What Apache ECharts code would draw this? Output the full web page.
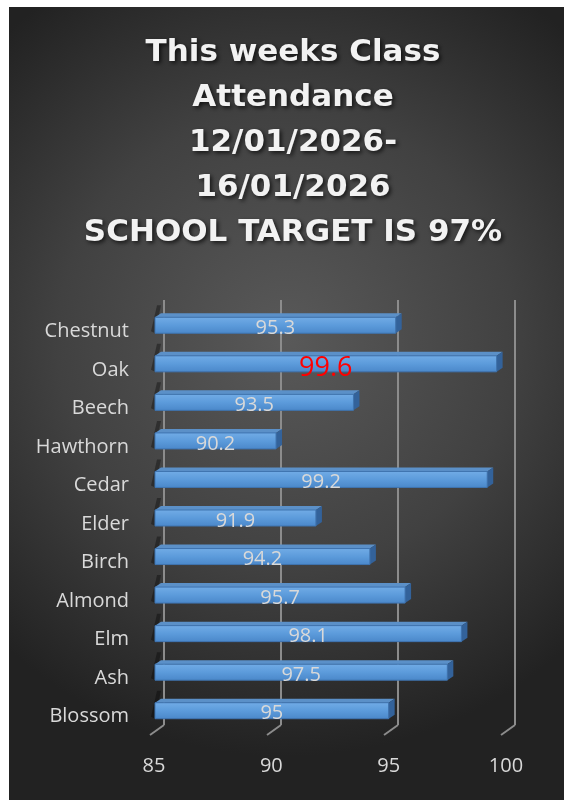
<!DOCTYPE html>
<html>
<head>
<meta charset="utf-8">
<script src="https://cdn.jsdelivr.net/npm/echarts@6/dist/echarts.min.js"></script>
<style>
html,body{margin:0;padding:0;background:#fff;}
#main{width:564px;height:800px;}
</style>
</head>
<body>
<div id="main"></div>
<script>
var classes = ['Chestnut','Oak','Beech','Hawthorn','Cedar','Elder','Birch','Almond','Elm','Ash','Blossom'];
var attendance = [95.3,99.6,93.5,90.2,99.2,91.9,94.2,95.7,98.1,97.5,95];
var xTicks = [85,90,95,100];
var axisMin = 85, axisMax = 100, axisStep = 5;
var highlight = 'Oak';

var myChart = echarts.init(document.getElementById('main'));

var barData = [];
for (var i = 0; i < classes.length; i++) {
	barData.push([attendance[i], i]);
}
var tickData = [];
for (var i = 0; i < xTicks.length; i++) tickData.push([xTicks[i], 0]);

// 3d-ish bar: front face, top face and end cap
function renderBar(params, api) {
	var v = api.value(0);
	var idx = api.value(1);
	var p0 = api.coord([axisMin, idx]);
	var p1 = api.coord([v, idx]);
	var h = 16, dx = 6, dy = 4;
	var x0 = p0[0] + 1, x1 = p1[0], y0 = p1[1] - h / 2;
	var big = classes[idx] == highlight;
	return {
		type: 'group',
		children: [{
			type: 'polygon',
			shape: {points: [[x0 - 4, y0 + h - 2], [x0 - 4 + dx, y0 - dy - 8], [x0 + dx, y0 - dy - 8], [x0, y0 + h]]},
			style: {fill: 'rgba(0,0,0,0.35)'}
		}, {
			type: 'polygon',
			shape: {points: [[x0, y0], [x0 + dx, y0 - dy], [x1 + dx, y0 - dy], [x1, y0]]},
			style: {fill: '#5b90c8'}
		}, {
			type: 'polygon',
			shape: {points: [[x1, y0], [x1 + dx, y0 - dy], [x1 + dx, y0 + h - dy], [x1, y0 + h]]},
			style: {fill: '#33629a'}
		}, {
			type: 'rect',
			shape: {x: x0, y: y0, width: x1 - x0, height: h},
			style: {
				fill: new echarts.graphic.LinearGradient(0, 0, 0, 1, [
					{offset: 0, color: '#72ace6'},
					{offset: 0.5, color: '#5c9bdb'},
					{offset: 1, color: '#4a87c9'}
				]),
				stroke: '#3f74b0',
				lineWidth: 1
			}
		}, {
			type: 'text',
			x: (x0 + x1) / 2,
			y: p1[1] + (big ? 4 : 3),
			style: {
				text: String(v),
				fill: big ? '#ff0000' : '#d9d9d9',
				font: (big ? 27 : 20) + 'px "Open Sans"',
				align: 'center',
				verticalAlign: 'middle'
			}
		}]
	};
}

// slanted floor ticks below the back grid lines
function renderTick(params, api) {
	var p = api.coord([api.value(0), 0]);
	return {
		type: 'line',
		shape: {x1: p[0], y1: p[1], x2: p[0] - 14, y2: p[1] + 10},
		style: {stroke: '#8c8c8c', lineWidth: 2}
	};
}

option = {
	backgroundColor: '#ffffff',
	graphic: [{
		type: 'rect',
		z: -10,
		silent: true,
		shape: {x: 9, y: 7, width: 555, height: 793},
		style: {
			fill: new echarts.graphic.RadialGradient(0.5, 0.42, 0.75, [
				{offset: 0, color: '#595959'},
				{offset: 0.55, color: '#414141'},
				{offset: 1, color: '#222222'}
			])
		}
	}],
	title: {
		text: 'This weeks Class\nAttendance\n12/01/2026-\n16/01/2026\nSCHOOL TARGET IS 97%',
		left: 288,
		textAlign: 'center',
		top: 25,
		textStyle: {
			color: '#f2f2f2',
			fontFamily: 'DejaVu Sans',
			fontWeight: 'bold',
			fontSize: 31,
			lineHeight: 45,
			textShadowColor: 'rgba(0,0,0,0.7)',
			textShadowBlur: 4,
			textShadowOffsetX: 2,
			textShadowOffsetY: 2
		}
	},
	grid: [{
		left: 154,
		right: 58,
		top: 306,
		bottom: 70
	}, {
		left: 164,
		right: 49,
		top: 300,
		bottom: 75
	}],
	xAxis: [{
		type: 'value',
		gridIndex: 0,
		min: axisMin,
		max: axisMax,
		interval: axisStep,
		axisLine: {show: false},
		axisTick: {show: false},
		splitLine: {show: false},
		axisLabel: {
			color: '#d9d9d9',
			fontFamily: 'Open Sans',
			fontSize: 20,
			margin: 26
		}
	}, {
		type: 'value',
		gridIndex: 1,
		min: axisMin,
		max: axisMax,
		interval: axisStep,
		axisLine: {show: false},
		axisTick: {show: false},
		axisLabel: {show: false},
		splitLine: {lineStyle: {color: '#8c8c8c', width: 2}}
	}],
	yAxis: [{
		type: 'category',
		gridIndex: 0,
		inverse: true,
		data: classes,
		axisLine: {show: false},
		axisTick: {show: false},
		axisLabel: {
			color: '#d9d9d9',
			fontFamily: 'Open Sans',
			fontSize: 20,
			margin: 25,
			verticalAlign: 'top',
			lineHeight: 12
		}
	}, {
		type: 'value',
		gridIndex: 1,
		min: 0,
		max: 1,
		show: false
	}],
	series: [{
		type: 'custom',
		xAxisIndex: 1,
		yAxisIndex: 1,
		data: tickData,
		renderItem: renderTick,
		silent: true
	}, {
		type: 'custom',
		xAxisIndex: 0,
		yAxisIndex: 0,
		data: barData,
		encode: {x: 0, y: 1},
		renderItem: renderBar,
		z: 5
	}]
};
myChart.setOption(option, true);
</script>
</body>
</html>
